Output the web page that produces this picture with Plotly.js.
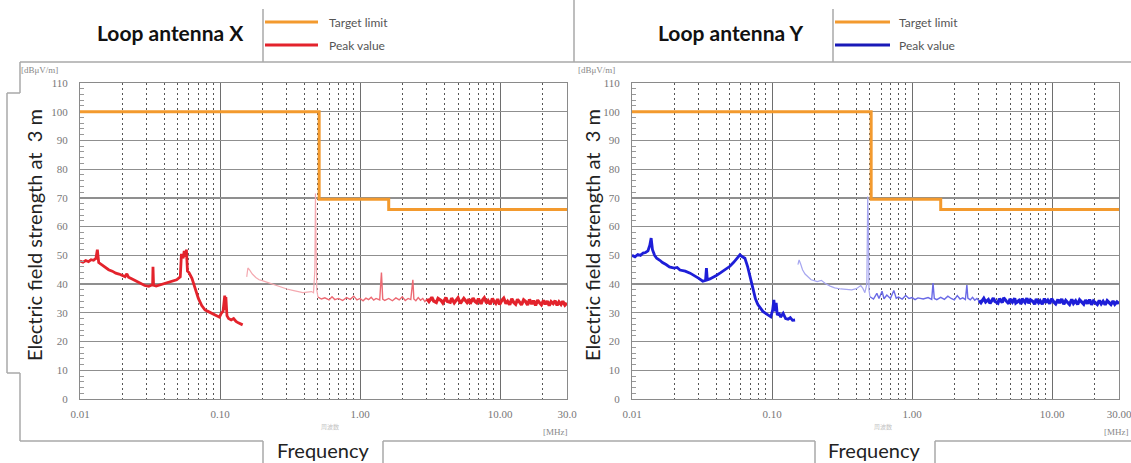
<!DOCTYPE html>
<html><head><meta charset="utf-8">
<script src="https://cdn.plot.ly/plotly-3.0.1.min.js"></script>
<style>html,body{margin:0;padding:0;background:#fff;}#chart{width:1131px;height:463px;}</style>
</head><body><div id="chart"></div>
<script>
// ---------- DATA ----------
const xTickVals = [0.01, 0.1, 1, 10, 30];
const xTickTextX = ["0.01", "0.10", "1.00", "10.00", "30.0"];
const xTickTextY = ["0.01", "0.10", "1.00", "10.00", "30.00"];
const xMinorVals = [0.02,0.03,0.04,0.05,0.06,0.07,0.08,0.09,0.2,0.3,0.4,0.5,0.6,0.7,0.8,0.9,2,3,4,5,6,7,8,9,20];

// Target limit (MHz, dBuV/m)
const limitF = [0.01, 0.51, 1.6, 30];
const limitV = [100, 69.5, 66, 66];

// Loop antenna X – peak value (red)
const xLowF = [0.0100,0.0105,0.0110,0.0115,0.0120,0.0125,0.0130,0.0133,0.0136,0.0140,0.0150,0.0160,0.0170,0.0180,0.0190,0.0200,0.0210,0.0216,0.0222,0.0230,0.0250,0.0270,0.0290,0.0310,0.0330,0.0332,0.0335,0.0350,0.0380,0.0400,0.0430,0.0460,0.0490,0.0520,0.0530,0.0545,0.0555,0.0565,0.0575,0.0585,0.0600,0.0630,0.0660,0.0700,0.0740,0.0780,0.0820,0.0860,0.0900,0.0950,0.0990,0.1020,0.1050,0.1080,0.1090,0.1100,0.1120,0.1150,0.1200,0.1250,0.1300,0.1350,0.1400,0.1450];
const xLowV = [48.0,47.6,48.2,47.8,48.5,48.3,49.0,52.0,47.5,47.0,46.0,45.0,44.5,43.8,43.5,43.0,42.6,43.6,42.4,42.0,41.0,40.2,39.5,39.2,39.8,46.0,39.6,39.3,39.8,40.0,40.5,41.0,41.5,42.5,50.5,49.0,51.5,49.5,52.0,44.5,44.0,42.0,39.0,35.0,32.5,31.0,30.5,30.0,29.5,29.0,28.5,29.8,30.5,36.0,31.0,35.5,29.0,28.0,27.5,28.0,27.0,26.5,26.0,25.8];
const xMidF = [0.155,0.158,0.162,0.170,0.180,0.190,0.200,0.220,0.240,0.260,0.280,0.300,0.330,0.360,0.390,0.420,0.450,0.465,0.475,0.480,0.485,0.490,0.500];
const xMidV = [42.5,45.6,45.0,43.5,42.3,41.5,41.2,40.5,39.8,39.2,38.7,38.3,37.8,37.3,37.0,37.2,37.4,37.0,45.0,71.5,60.0,38.0,35.5];
const xHiF = [0.50,0.53,0.56,0.60,0.63,0.66,0.70,0.75,0.80,0.85,0.90,0.95,1.00,1.05,1.10,1.15,1.20,1.25,1.30,1.38,1.42,1.45,1.50,1.60,1.70,1.80,1.90,2.00,2.10,2.20,2.30,2.38,2.42,2.50,2.60,2.70,2.80,2.90,3.00];
const xHiV = [35.5,34.8,35.2,34.5,35.6,34.6,35.0,34.3,35.3,34.7,35.8,34.5,35.0,34.2,35.1,34.6,35.4,34.4,35.0,34.5,44.0,34.8,34.3,35.0,34.2,35.2,34.5,35.6,34.3,35.0,34.6,41.5,34.8,34.2,35.3,34.4,35.0,33.9,34.8];
const xTopF = [3.0,3.1,3.25,3.35,3.5,3.6,3.8,3.9,4.1,4.2,4.4,4.5,4.7,4.9,5.0,5.2,5.4,5.5,5.8,6.0,6.1,6.4,6.6,6.8,7.0,7.3,7.5,7.7,8.0,8.2,8.5,8.8,9.0,9.3,9.6,9.9,10.3,10.6,11.0,11.3,11.7,12.1,12.5,12.9,13.3,13.8,14.2,14.7,15.2,15.7,16.2,16.8,17.3,17.9,18.5,19.1,19.7,20.4,21.0,21.7,22.4,23.1,23.9,24.7,25.5,26.3,27.2,28.0,29.0,30.0];
const xTopV = [34.8,33.9,35.4,34.1,33.6,35.0,34.2,33.4,35.3,34.0,33.7,35.1,33.5,34.6,35.2,33.3,34.4,35.0,33.6,34.8,33.2,35.1,34.0,33.5,34.9,33.1,34.5,35.2,33.4,34.2,33.0,35.0,34.1,33.3,34.8,32.9,34.4,35.1,33.2,34.0,32.8,34.9,33.6,33.0,34.7,33.4,32.8,34.5,33.9,32.7,34.6,33.1,34.2,32.6,34.4,33.5,32.8,34.3,33.0,34.1,32.5,33.9,33.2,34.2,32.6,33.8,32.9,34.0,32.7,33.4];

// Loop antenna Y – peak value (blue)
const yLowF = [0.0100,0.0105,0.0110,0.0115,0.0120,0.0125,0.0130,0.0134,0.0137,0.0140,0.0145,0.0150,0.0158,0.0165,0.0175,0.0185,0.0200,0.0210,0.0220,0.0240,0.0260,0.0280,0.0300,0.0320,0.0335,0.0340,0.0345,0.0360,0.0380,0.0400,0.0430,0.0460,0.0500,0.0530,0.0560,0.0590,0.0610,0.0640,0.0670,0.0700,0.0730,0.0760,0.0790,0.0820,0.0860,0.0900,0.0950,0.0980,0.1010,0.1030,0.1050,0.1070,0.1090,0.1120,0.1150,0.1200,0.1250,0.1300,0.1350,0.1400,0.1460];
const yLowV = [50.0,49.5,50.3,50.0,50.8,51.0,51.6,53.5,56.0,52.0,50.0,49.0,48.3,47.5,46.8,46.0,45.6,45.8,44.9,44.5,43.8,43.0,42.0,41.0,41.3,45.6,41.5,41.8,42.3,43.0,44.0,45.0,46.2,47.5,48.8,50.2,49.6,49.0,46.0,42.0,38.5,35.0,33.0,31.7,30.5,29.8,29.0,28.6,31.0,34.5,30.5,33.5,29.2,30.0,28.5,29.8,28.0,27.8,28.3,27.4,27.5];
const yMidF = [0.153,0.156,0.160,0.165,0.172,0.180,0.190,0.200,0.210,0.225,0.240,0.260,0.280,0.310,0.340,0.370,0.400,0.430,0.445,0.460,0.475,0.482,0.487,0.492,0.500];
const yMidV = [46.8,48.4,47.0,45.0,43.5,42.5,41.5,41.2,40.9,41.3,40.2,39.3,38.7,38.3,38.2,38.0,38.4,39.5,38.5,37.0,40.0,70.5,62.0,38.0,35.6];
const yHiF = [0.50,0.53,0.56,0.58,0.61,0.63,0.66,0.70,0.74,0.77,0.80,0.85,0.90,0.95,1.00,1.05,1.10,1.20,1.30,1.38,1.41,1.44,1.50,1.60,1.70,1.80,1.90,2.00,2.10,2.20,2.30,2.40,2.46,2.50,2.60,2.70,2.80,2.90,3.00];
const yHiV = [35.6,34.8,36.8,35.0,37.5,34.9,36.2,35.0,37.8,35.1,35.5,34.8,36.0,35.0,35.3,34.6,35.2,34.8,35.3,34.7,40.4,35.0,34.6,35.4,34.7,35.8,35.0,34.5,36.0,34.8,35.2,34.6,39.7,35.1,34.5,35.4,34.4,35.0,34.2];
const yTopF = [3.0,3.1,3.25,3.35,3.5,3.6,3.8,3.9,4.1,4.2,4.4,4.5,4.7,4.9,5.0,5.2,5.4,5.5,5.8,6.0,6.1,6.4,6.6,6.8,7.0,7.3,7.5,7.7,8.0,8.2,8.5,8.8,9.0,9.3,9.6,9.9,10.3,10.6,11.0,11.3,11.7,12.1,12.5,12.9,13.3,13.8,14.2,14.7,15.2,15.7,16.2,16.8,17.3,17.9,18.5,19.1,19.7,20.4,21.0,21.7,22.4,23.1,23.9,24.7,25.5,26.3,27.2,28.0,29.0,30.0];
const yTopV = [34.2,33.5,35.0,33.8,34.6,33.3,35.1,34.0,33.4,34.9,33.6,35.2,34.1,33.2,34.8,33.7,35.0,33.4,34.3,33.1,34.9,33.6,35.1,33.3,34.5,33.9,33.0,34.8,33.5,34.2,33.0,35.0,33.6,34.4,33.2,34.9,33.7,33.1,34.6,33.4,34.8,33.0,34.3,33.6,32.9,34.7,33.3,34.2,32.9,34.5,33.6,33.0,34.4,33.2,34.6,32.8,34.1,33.5,32.9,34.3,33.1,34.0,32.8,34.2,33.4,32.9,34.1,33.0,33.8,33.2];

// ---------- LAYOUT HELPERS ----------
const W = 1131, H = 463;
const px = v => v / W;
const py = v => 1 - v / H;

const ORANGE = '#F39A2E', RED = '#E3232C', PINK = '#F4A9B0', RED2 = '#EC6A73';
const BLUE = '#1E1ED8', LBLUE = '#A6A6F0', BLUE2 = '#6A6AE6';
const tickFont = {family: 'Liberation Serif, serif', size: 11, color: '#777'};
const sansFont = 'Lato, Open Sans, sans-serif';

function xa(domain, ticktext, anchor) {
  return {
    domain: domain, anchor: anchor, type: 'log', range: [-2, Math.log10(30)],
    tickmode: 'array', tickvals: xTickVals, ticktext: ticktext, tickfont: tickFont,
    ticks: '', ticklabelstandoff: 5, ticklabeloverflow: 'allow',
    showgrid: true, gridcolor: '#6e6e6e', gridwidth: 1,
    minor: {tickmode: 'array', tickvals: xMinorVals, showgrid: true, gridcolor: '#555', griddash: '2px,3px', gridwidth: 1},
    showline: true, mirror: true, linecolor: '#8a8a8a', linewidth: 1, zeroline: false, fixedrange: true
  };
}
function ya(anchor) {
  return {
    domain: [py(399), py(83)], anchor: anchor, range: [0, 110],
    tickmode: 'linear', tick0: 0, dtick: 10, tickfont: tickFont,
    ticks: '', ticklabelstandoff: 9,
    showgrid: true, gridcolor: '#8f8f8f', gridwidth: 1.2,
    minor: {dtick: 2, ticks: 'inside', ticklen: 4, tickcolor: '#999', showgrid: false},
    showline: true, mirror: true, linecolor: '#8a8a8a', linewidth: 1, zeroline: false, fixedrange: true
  };
}

function tr(x, y, color, width, xaxis, yaxis, shape) {
  return {x: x, y: y, type: 'scatter', mode: 'lines', xaxis: xaxis, yaxis: yaxis,
    line: {color: color, width: width, shape: shape || 'linear'}, hoverinfo: 'skip', showlegend: false};
}

const data = [
  tr(xLowF, xLowV, RED, 2.8, 'x', 'y'),
  tr(xMidF, xMidV, PINK, 1.2, 'x', 'y'),
  tr(xHiF, xHiV, RED2, 1.4, 'x', 'y'),
  tr(xTopF, xTopV, RED, 3.2, 'x', 'y'),
  tr(limitF, limitV, ORANGE, 3, 'x', 'y', 'hv'),
  tr(yLowF, yLowV, BLUE, 2.8, 'x2', 'y2'),
  tr(yMidF, yMidV, LBLUE, 1.2, 'x2', 'y2'),
  tr(yHiF, yHiV, BLUE2, 1.4, 'x2', 'y2'),
  tr(yTopF, yTopV, BLUE, 3.2, 'x2', 'y2'),
  tr(limitF, limitV, ORANGE, 3, 'x2', 'y2', 'hv')
];

const boxCol = '#a8a8a8';
function seg(x0, y0, x1, y1, color, width) {
  return {type: 'line', xref: 'paper', yref: 'paper', x0: px(x0), y0: py(y0), x1: px(x1), y1: py(y1),
    line: {color: color || boxCol, width: width || 1.5}, layer: 'below'};
}
const shapes = [
  seg(20, 62, 1131, 62),
  seg(263, 9, 263, 62), seg(574, 0, 574, 62), seg(833, 9, 833, 62),
  seg(20, 62, 20, 93), seg(20, 93, 7, 93), seg(7, 93, 7, 373), seg(7, 373, 20, 373), seg(20, 373, 20, 441),
  seg(20, 441, 263, 441), seg(263, 441, 263, 463), seg(383, 441, 383, 463), seg(383, 441, 815, 441),
  seg(815, 441, 815, 463), seg(935, 441, 935, 463), seg(935, 441, 1131, 441),
  {type: 'line', xref: 'paper', yref: 'paper', x0: px(265), y0: py(22), x1: px(318), y1: py(22), line: {color: ORANGE, width: 3}},
  {type: 'line', xref: 'paper', yref: 'paper', x0: px(265), y0: py(45), x1: px(318), y1: py(45), line: {color: RED, width: 3}},
  {type: 'line', xref: 'paper', yref: 'paper', x0: px(835), y0: py(22), x1: px(890), y1: py(22), line: {color: ORANGE, width: 3}},
  {type: 'line', xref: 'paper', yref: 'paper', x0: px(835), y0: py(45), x1: px(890), y1: py(45), line: {color: '#1A1AB8', width: 3}}
];

function ann(text, x, y, opts) {
  return Object.assign({text: text, xref: 'paper', yref: 'paper', x: px(x), y: py(y), showarrow: false,
    xanchor: 'center', yanchor: 'middle', font: {family: sansFont, size: 12, color: '#555'}}, opts || {});
}
const bigFont = {family: sansFont, size: 20, color: '#222'};
const annotations = [
  ann('<b>Loop antenna X</b>', 170, 33, {font: {family: sansFont, size: 21, color: '#111'}}),
  ann('<b>Loop antenna Y</b>', 730, 33, {font: {family: sansFont, size: 21, color: '#111'}}),
  ann('Target limit', 327, 22, {xanchor: 'left'}),
  ann('Peak value', 327, 45, {xanchor: 'left'}),
  ann('Target limit', 897, 22, {xanchor: 'left'}),
  ann('Peak value', 897, 45, {xanchor: 'left'}),
  ann('Electric field strength at  3 m', 34, 235, {textangle: -90, font: bigFont}),
  ann('Electric field strength at  3 m', 592, 235, {textangle: -90, font: bigFont}),
  ann('Frequency', 323, 450, {font: bigFont}),
  ann('Frequency', 874, 450, {font: bigFont}),
  ann('[dBμV/m]', 19, 70, {xanchor: 'left', font: {family: 'Liberation Serif, serif', size: 9, color: '#888'}}),
  ann('[dBμV/m]', 576, 70, {xanchor: 'left', font: {family: 'Liberation Serif, serif', size: 9, color: '#888'}}),
  ann('[MHz]', 570, 432, {xanchor: 'right', font: {family: 'Liberation Serif, serif', size: 9, color: '#888'}}),
  ann('[MHz]', 1131, 432, {xanchor: 'right', font: {family: 'Liberation Serif, serif', size: 9, color: '#888'}}),
  ann('周波数', 330, 426, {font: {family: 'Noto Sans CJK JP', size: 6, color: '#c4c4c4'}}),
  ann('周波数', 883, 426, {font: {family: 'Noto Sans CJK JP', size: 6, color: '#c4c4c4'}})
];

const layout = {
  width: W, height: H, margin: {l: 0, r: 0, t: 0, b: 0, pad: 0},
  paper_bgcolor: '#fff', plot_bgcolor: '#fff', showlegend: false,
  xaxis: xa([px(80), px(567)], xTickTextX, 'y'),
  yaxis: ya('x'),
  xaxis2: xa([px(632), px(1119)], xTickTextY, 'y2'),
  yaxis2: ya('x2'),
  shapes: shapes, annotations: annotations
};

Plotly.newPlot('chart', data, layout, {staticPlot: true, displayModeBar: false});
</script></body></html>
